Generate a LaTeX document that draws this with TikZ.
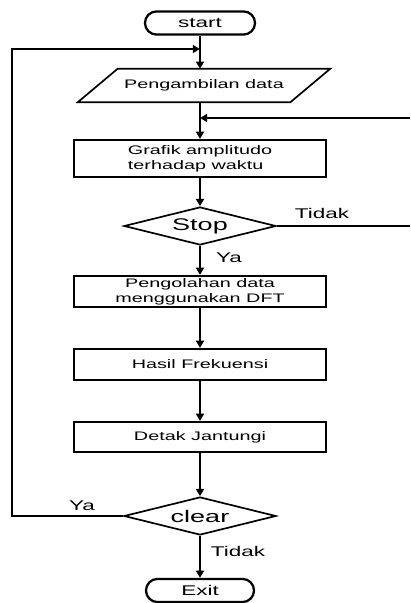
\documentclass[tikz,border=0pt]{standalone}
\usepackage{fontspec}
\newfontfamily\flowfont[FakeStretch=1.6]{Liberation Sans}
\usetikzlibrary{shapes.geometric,arrows.meta,calc}

\begin{document}
\begin{tikzpicture}[x=0.025cm, y=-0.025cm,
		font=\flowfont\fontsize{8.8}{10.5}\selectfont,
		>={Triangle[length=1.8mm,width=2mm]},
		line/.style={line width=1.2pt},
		term/.style={draw, line width=1.6pt, rounded corners=0.29cm, minimum width=2.75cm, minimum height=0.58cm, inner sep=0pt, font=\flowfont\fontsize{10}{12}\selectfont},
		iobox/.style={minimum width=5.3cm, minimum height=0.825cm, inner sep=0pt},
		procbox/.style={draw, line width=1.6pt, minimum width=6.3cm, inner sep=0pt},
		decide/.style={draw, line width=1.2pt, diamond, aspect=4, minimum width=3.8cm, minimum height=0.95cm, inner sep=0pt, font=\flowfont\fontsize{12}{14}\selectfont},
		lbl/.style={font=\flowfont\fontsize{10}{12}\selectfont}]
	\useasboundingbox (0,0) rectangle (410,603);
	%%%%% START %%%%%
	\node[term] (start) at (200, 23) {start};
	\node[iobox] (ambil) at (204, 85.5) {Pengambilan data};
	\draw[line width=1.2pt] ($(ambil.north west)+(20,0)$) -- ($(ambil.north east)+(20,0)$)
		-- ($(ambil.south east)+(-20,0)$) -- ($(ambil.south west)+(-20,0)$) -- cycle;
	\node[procbox, minimum height=0.925cm, align=left] (grafik) at (200, 158.5) {Grafik amplitudo\\terhadap waktu};
	\node[decide] (stop) at (200, 226) {Stop};
	\node[procbox, minimum height=0.775cm, align=center] (olah) at (200, 291.5) {Pengolahan data\\menggunakan DFT};
	\node[procbox, minimum height=0.775cm] (hasil) at (200, 364.5) {Hasil Frekuensi};
	\node[procbox, minimum height=0.75cm] (detak) at (200, 437) {Detak Jantungi};
	\node[decide] (clear) at (200, 516) {clear};
	\node[term, minimum width=2.7cm] (exit) at (200, 590.5) {Exit};
	
	%%%%% ARROWS %%%%%
	\coordinate (loopin) at (200, 49);
	\coordinate (loopleft) at (12, 516);
	\coordinate (lefttop) at (12, 49);
	\coordinate (rightin) at (410, 118);
	\coordinate (rightout) at (410, 226);
	\coordinate (grafikin) at (200, 118);
	
	\draw[line, ->] (start) -- (start |- ambil.north);
	\draw[line, ->] (start |- ambil.south) -- (grafik);
	\draw[line, ->] (grafik) -- (stop);
	\draw[line, ->] (stop) -- (olah);
	\draw[line, ->] (olah) -- (hasil);
	\draw[line, ->] (hasil) -- (detak);
	\draw[line, ->] (detak) -- (clear);
	\draw[line, ->] (clear) -- (exit);
	
	\draw[line, ->] (clear.west) -- (loopleft) -- (lefttop) -- (loopin);
	\draw[line, ->] (rightin) -- (grafikin);
	\draw[line] (stop.east) -- (rightout);
	
	\node[lbl] (tidak1) at (322, 213) {Tidak};
	\node[lbl] (ya1) at (229, 258) {Ya};
	\node[lbl] (ya2) at (82, 506) {Ya};
	\node[lbl] (tidak2) at (238, 551) {Tidak};
	%%%%% END %%%%%
\end{tikzpicture}
\end{document}
